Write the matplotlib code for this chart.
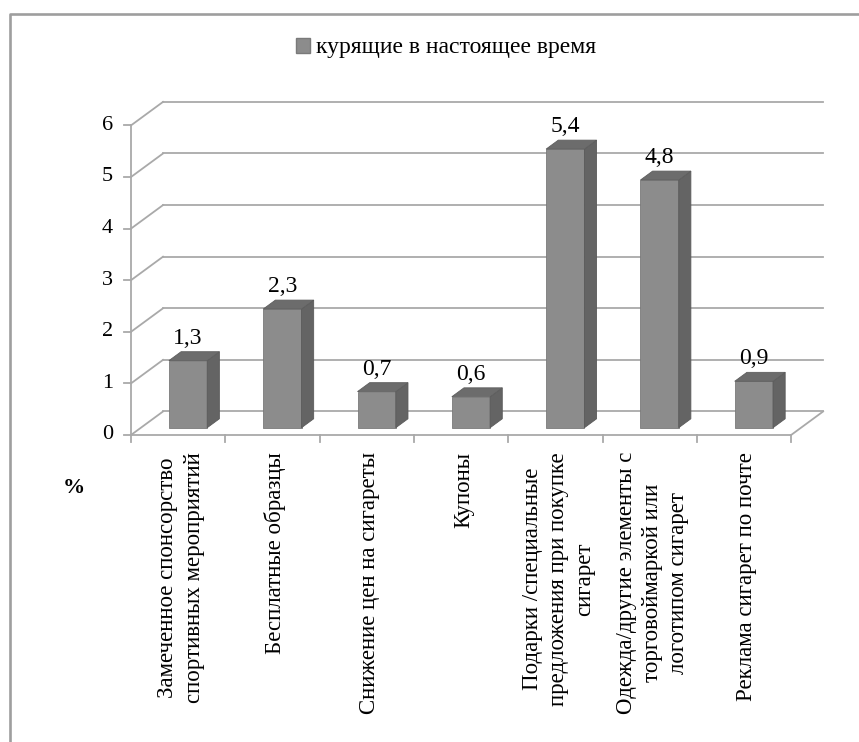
import matplotlib.pyplot as plt
from matplotlib.patches import Polygon, Patch
from matplotlib.lines import Line2D

# Survey shares, %
categories = [
    'Замеченное спонсорство\nспортивных мероприятий',
    'Бесплатные образцы',
    'Снижение цен на сигареты',
    'Купоны',
    'Подарки /специальные\nпредложения при покупке\nсигарет',
    'Одежда/другие элементы с\nторговоймаркой или\nлоготипом сигарет',
    'Реклама сигарет по почте',
]
values = [1.3, 2.3, 0.7, 0.6, 5.4, 4.8, 0.9]
labels = ['1,3', '2,3', '0,7', '0,6', '5,4', '4,8', '0,9']
yticks = [0, 1, 2, 3, 4, 5, 6]
series_name = 'курящие в настоящее время'

plt.rcParams['font.family'] = ['Liberation Serif', 'DejaVu Serif']

W, H = 859, 742
fig = plt.figure(figsize=(W / 100, H / 100), dpi=100)

# pixel layout of the pseudo-3D box
X0, SX = 131, 94.3      # front x=0 and px per category
Y0, SY = 435, 51.6      # front value 0 and px per unit
DX = 32 / SX            # depth shift, data units
DY = 23.5 / SY
xlim = (-0.5, 7.6)
ylim = (-0.3, 6.9)
left = X0 + xlim[0] * SX
right = X0 + xlim[1] * SX
bottom = Y0 - ylim[0] * SY
top = Y0 - ylim[1] * SY
ax = fig.add_axes([left / W, 1 - bottom / H, (right - left) / W, (bottom - top) / H])
ax.set_xlim(*xlim)
ax.set_ylim(*ylim)
ax.axis('off')

n = len(values)
grid_c = '#a9a9a9'
lw = 1.3

# back wall gridlines and side-wall diagonals
for t in yticks:
    ax.plot([DX, n + DX], [t + DY, t + DY], color=grid_c, lw=lw, zorder=1)
    ax.plot([0, DX], [t, t + DY], color=grid_c, lw=lw, zorder=1)
    ax.plot([-0.07, 0], [t, t], color=grid_c, lw=lw, zorder=1)
    ax.text(-0.19, t, str(t), ha='right', va='center', fontsize=16)

# front vertical axis and floor
ax.plot([0, 0], [0, max(yticks)], color=grid_c, lw=lw, zorder=1)
ax.plot([0, n], [0, 0], color=grid_c, lw=lw, zorder=1)
ax.plot([n, n + DX], [0, DY], color=grid_c, lw=lw, zorder=1)
for i in range(n + 1):
    ax.plot([i, i], [0, -0.14], color=grid_c, lw=lw, zorder=1)

# bars as boxes: front, side and top faces
w = 0.406
f0, f1 = 0.31, 0.69
ddx, ddy = (f1 - f0) * DX, (f1 - f0) * DY
for i, v in enumerate(values):
    xl = i + 0.5 - w / 2 + f0 * DX
    xr = xl + w
    yb = f0 * DY
    yt = v + f0 * DY
    front = Polygon([(xl, yb), (xr, yb), (xr, yt), (xl, yt)],
                    facecolor='#8c8c8c', edgecolor='#7a7a7a', lw=0.6, zorder=3)
    side = Polygon([(xr, yb), (xr + ddx, yb + ddy), (xr + ddx, yt + ddy), (xr, yt)],
                   facecolor='#646464', edgecolor='#5a5a5a', lw=0.6, zorder=3)
    cap = Polygon([(xl, yt), (xr, yt), (xr + ddx, yt + ddy), (xl + ddx, yt + ddy)],
                  facecolor='#6c6c6c', edgecolor='#5e5e5e', lw=0.6, zorder=3)
    for p in (front, side, cap):
        ax.add_patch(p)
    ax.text((xl + xr) / 2, v + f1 * DY + 0.155, labels[i],
            ha='center', va='baseline', fontsize=17, zorder=4)

# rotated category names under the floor
for i, name in enumerate(categories):
    ax.text(i + 0.53, -0.33, name, rotation=90, rotation_mode='anchor',
            ha='right', va='center', multialignment='center',
            fontsize=16.5, linespacing=1.32, clip_on=False)

fig.text(74 / W, 1 - 488 / H, '%', ha='center', va='center',
         fontsize=16, fontweight='bold')

fig.legend(handles=[Patch(facecolor='#8c8c8c', edgecolor='#7a7a7a')],
           labels=[series_name], loc='center',
           bbox_to_anchor=(446 / W, 1 - 48 / H), frameon=False,
           fontsize=17, handlelength=0.6, handleheight=0.6, handletextpad=0.25)

# chart frame (top and left edges)
fig.add_artist(Line2D([9.5 / W, 9.5 / W, 1], [0, 1 - 13.5 / H, 1 - 13.5 / H],
                      color='#9e9e9e', lw=1.9))

fig.savefig('out.png', dpi=100)
